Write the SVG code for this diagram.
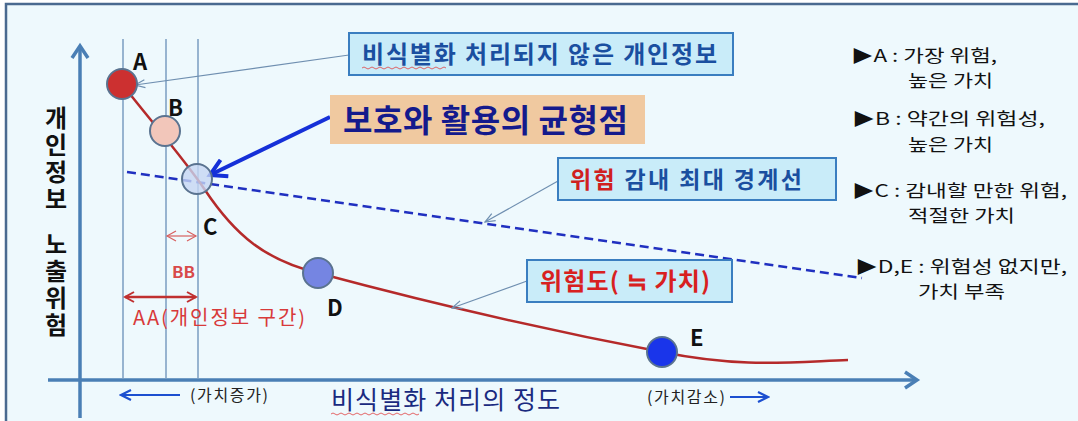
<svg xmlns="http://www.w3.org/2000/svg" width="1078" height="421" viewBox="0 0 1078 421">
<defs>
<style>
.k{font-family:"Noto Sans CJK KR","Noto Sans",sans-serif}
.vl{stroke:#7a9cc0;stroke-width:1.5}
.pt{stroke:#5a7390;stroke-width:2}
.box{fill:#c9ecf9;stroke:#3a7ec0;stroke-width:2}
.con{stroke:#6f8fb0;stroke-width:1.2;fill:none}
.lg{font-size:17px;fill:#111}
.pl{font-size:22px;font-weight:bold;fill:#111}
</style>
<marker id="ta" markerWidth="12" markerHeight="10" refX="11" refY="5" orient="auto" markerUnits="userSpaceOnUse"><path d="M1,1 L11,5 L1,9" fill="none" stroke="#6f8fb0" stroke-width="1.2"/></marker>
<marker id="ba" markerWidth="22" markerHeight="22" refX="18" refY="11" orient="auto" markerUnits="userSpaceOnUse"><path d="M2,2 L18,11 L2,20" fill="none" stroke="#1530d8" stroke-width="4"/></marker>
<marker id="ra" markerWidth="12" markerHeight="12" refX="10" refY="6" orient="auto-start-reverse" markerUnits="userSpaceOnUse"><path d="M1,1 L10,6 L1,11" fill="none" stroke="#c03030" stroke-width="2"/></marker>
<marker id="ra2" markerWidth="12" markerHeight="12" refX="10" refY="6" orient="auto-start-reverse" markerUnits="userSpaceOnUse"><path d="M1,1 L10,6 L1,11" fill="none" stroke="#d86060" stroke-width="1.2"/></marker>
<marker id="axa" markerWidth="20" markerHeight="20" refX="14" refY="10" orient="auto" markerUnits="userSpaceOnUse"><path d="M2,2 L14,10 L2,18" fill="none" stroke="#4a7fb5" stroke-width="3.5"/></marker>
<marker id="sa" markerWidth="14" markerHeight="14" refX="12" refY="7" orient="auto" markerUnits="userSpaceOnUse"><path d="M2,2 L12,7 L2,12" fill="none" stroke="#1c4fd0" stroke-width="2.2"/></marker>
</defs>
<rect x="0" y="0" width="1078" height="421" fill="#ffffff"/>
<rect x="6" y="4" width="1080" height="430" fill="#eef9fd" stroke="#4a6a90" stroke-width="2.5"/>

<g id="axes">
<line x1="80" y1="418" x2="80" y2="46" stroke="#4a7fb5" stroke-width="3.5" marker-end="url(#axa)"/>
<line x1="48" y1="380" x2="917" y2="380" stroke="#4a7fb5" stroke-width="3.5" marker-end="url(#axa)"/>
<line class="vl" x1="123" y1="39" x2="123" y2="379"/>
<line class="vl" x1="166" y1="39" x2="166" y2="379"/>
<line class="vl" x1="198" y1="39" x2="198" y2="379"/>
<text class="k" x="56" y="106" font-size="24" font-weight="bold" fill="#111" letter-spacing="3" style="writing-mode:vertical-rl;text-orientation:upright">개인정보</text>
<text class="k" x="56" y="232" font-size="24" font-weight="bold" fill="#111" letter-spacing="3" style="writing-mode:vertical-rl;text-orientation:upright">노출위험</text>
<text class="k" x="331" y="409" font-size="25" fill="#1a2a80" textLength="229" lengthAdjust="spacing">비식별화 처리의 정도</text>
<path d="M331,414 q2,-2 4,0 t4,0 t4,0 t4,0 t4,0 t4,0 t4,0 t4,0 t4,0 t4,0 t4,0 t4,0 t4,0 t4,0 t4,0 t4,0 t4,0 t4,0 t4,0 t4,0 t4,0 t4,0" fill="none" stroke="#e04040" stroke-width="0.8"/>
<text class="k" x="190" y="401" font-size="16" fill="#222" textLength="78" lengthAdjust="spacing">(가치증가)</text>
<line x1="180" y1="395" x2="121" y2="395" stroke="#1c4fd0" stroke-width="2.2" marker-end="url(#sa)"/>
<text class="k" x="647" y="403" font-size="16" fill="#222" textLength="78" lengthAdjust="spacing">(가치감소)</text>
<line x1="730" y1="397" x2="768" y2="397" stroke="#1c4fd0" stroke-width="2.2" marker-end="url(#sa)"/>
</g>

<g id="connectors">
<line x1="127" y1="172" x2="862" y2="278" stroke="#2030c0" stroke-width="2.5" stroke-dasharray="9,5"/>
<path d="M122,84 C150,120 185,160 205,190 C235,235 265,260 318,273 C400,295 520,325 662,352 C740,368 790,362 848,360" fill="none" stroke="#b52a2a" stroke-width="2.5"/>
<line class="con" x1="349" y1="55" x2="135" y2="85" marker-end="url(#ta)"/>
<line x1="330" y1="117" x2="210" y2="175" stroke="#1530d8" stroke-width="4" marker-end="url(#ba)"/>
<line class="con" x1="558" y1="181" x2="485" y2="222" marker-end="url(#ta)"/>
<line class="con" x1="527" y1="281" x2="452" y2="308" marker-end="url(#ta)"/>
<line x1="167" y1="236" x2="196" y2="236" stroke="#d86060" stroke-width="1.2" marker-start="url(#ra2)" marker-end="url(#ra2)"/>
<line x1="125" y1="297" x2="196" y2="297" stroke="#c03030" stroke-width="2.5" marker-start="url(#ra)" marker-end="url(#ra)"/>
</g>

<g id="pointA"><circle class="pt" cx="122" cy="84" r="15" fill="#cc3030"/><text class="k pl" x="133" y="70">A</text></g>
<g id="pointB"><circle class="pt" cx="165" cy="131" r="15" fill="#f2c6ba"/><text class="k pl" x="168" y="116">B</text></g>
<g id="pointC"><circle class="pt" cx="197" cy="179" r="15" fill="#c6d6f2" fill-opacity="0.8"/><text class="k pl" x="203" y="235">C</text></g>
<g id="pointD"><circle class="pt" cx="318" cy="273" r="15" fill="#7585e2"/><text class="k pl" x="327" y="316">D</text></g>
<g id="pointE"><circle class="pt" cx="662" cy="352" r="15" fill="#1a35ea"/><text class="k pl" x="690" y="346">E</text></g>

<g id="labelBB"><text class="k" x="172" y="278" font-size="16" font-weight="bold" fill="#d84a4a" textLength="23" lengthAdjust="spacingAndGlyphs">BB</text></g>
<g id="labelAA"><text class="k" x="133" y="325" font-size="20" fill="#d83a3a" textLength="172" lengthAdjust="spacing">AA(개인정보 구간)</text></g>

<g id="box1"><rect class="box" x="349" y="33" width="384" height="42"/><text class="k" x="362" y="63" font-size="24" font-weight="bold" fill="#1a4fa0" textLength="355" lengthAdjust="spacing">비식별화 처리되지 않은 개인정보</text>
<path d="M362,68 q2,-2 4,0 t4,0 t4,0 t4,0 t4,0 t4,0 t4,0 t4,0 t4,0 t4,0 t4,0 t4,0 t4,0 t4,0 t4,0 t4,0 t4,0 t4,0 t4,0 t4,0 t4,0" fill="none" stroke="#e04040" stroke-width="0.8"/></g>
<g id="box2"><rect x="330" y="95" width="315" height="49" fill="#f0c9a0"/><text class="k" x="343" y="132" font-size="32" font-weight="bold" fill="#141a8c" textLength="285" lengthAdjust="spacing">보호와 활용의 균형점</text></g>
<g id="box3"><rect class="box" x="558" y="158" width="278" height="42"/><text class="k" x="570" y="188" font-size="23" font-weight="bold" fill="#1a4fa0" textLength="232" lengthAdjust="spacing"><tspan fill="#d02020">위험</tspan> 감내 최대 경계선</text></g>
<g id="box4"><rect class="box" x="527" y="260" width="205" height="42"/><text class="k" x="540" y="290" font-size="24" font-weight="bold" fill="#d82020" textLength="170" lengthAdjust="spacing">위험도( ≒ 가치)</text></g>

<g id="legend">
<text class="k lg" x="851" y="62" textLength="146" lengthAdjust="spacingAndGlyphs">▶A : 가장 위험,</text>
<text class="k lg" x="908" y="87" textLength="85" lengthAdjust="spacingAndGlyphs">높은 가치</text>
<text class="k lg" x="852" y="125" textLength="193" lengthAdjust="spacingAndGlyphs">▶B : 약간의 위험성,</text>
<text class="k lg" x="908" y="151" textLength="85" lengthAdjust="spacingAndGlyphs">높은 가치</text>
<text class="k lg" x="852" y="197" textLength="215" lengthAdjust="spacingAndGlyphs">▶C : 감내할 만한 위험,</text>
<text class="k lg" x="908" y="222" textLength="107" lengthAdjust="spacingAndGlyphs">적절한 가치</text>
<text class="k lg" x="855" y="273" textLength="212" lengthAdjust="spacingAndGlyphs">▶D,E : 위험성 없지만,</text>
<text class="k lg" x="918" y="298" textLength="87" lengthAdjust="spacingAndGlyphs">가치 부족</text>
</g>
</svg>
